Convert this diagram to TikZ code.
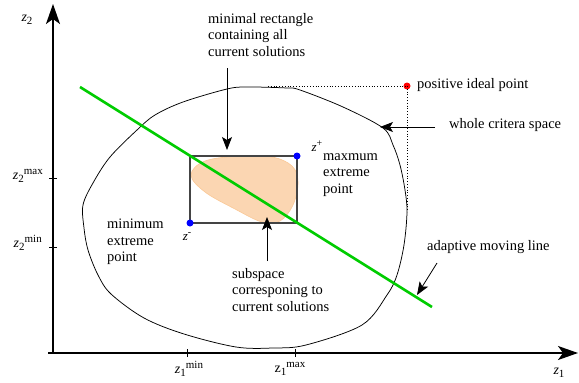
\documentclass[tikz,border=0pt]{standalone}
\usepackage{fontspec}
\setmainfont{Liberation Serif}
\usetikzlibrary{arrows.meta}
\definecolor{lgreen}{RGB}{0,204,0}
\definecolor{peach}{RGB}{251,214,178}
\definecolor{peachline}{RGB}{250,200,150}
\definecolor{rectgray}{RGB}{68,68,68}
\newcommand{\zlab}[3]{{\fontsize{14}{16}\selectfont #1}\raisebox{-3pt}{\fontsize{11}{12}\selectfont #2}\raisebox{5pt}{\fontsize{11}{12}\selectfont #3}}
\begin{document}
\begin{tikzpicture}[x=1pt,y=-1pt,
  lbl/.style={font=\fontsize{14.5}{16.5}\selectfont, align=left, inner sep=0pt, anchor=west},
  mlbl/.style={inner sep=0pt},
  bigarrow/.style={line width=0.8pt, -{Stealth[length=13pt,width=10pt,inset=3pt]}},
  axisline/.style={line width=1.3pt, -{Stealth[length=20pt,width=14pt,inset=5pt]}},
  dot/.style={circle, inner sep=0pt, minimum size=7pt},
  tick/.style={line width=1pt}]
\useasboundingbox (0,0) rectangle (579,383);
% axes
\coordinate (O) at (53,353);
\coordinate (ytip) at (53,4);
\coordinate (x0) at (48,353);
\coordinate (xtip) at (578,353);
\draw[axisline] (x0) -- (xtip);
\draw[axisline] (O) -- (ytip);
% ticks
\draw[tick] (49,178) -- (57,178);
\draw[tick] (49,247) -- (57,247);
\draw[tick] (187,349) -- (187,357);
\draw[tick] (295,349) -- (295,357);
% axis labels
\node[mlbl] (lz2) at (27,20) {\zlab{\itshape z}{2}{}};
\node[mlbl, anchor=east] (lz2max) at (43,176) {\zlab{\itshape z}{2}{max}};
\node[mlbl, anchor=east] (lz2min) at (42,243) {\zlab{\itshape z}{2}{min}};
\node[mlbl] (lz1min) at (189,369) {\zlab{\itshape z}{1}{min}};
\node[mlbl] (lz1max) at (290,369) {\zlab{z}{1}{max}};
\node[mlbl] (lz1) at (559,373) {\zlab{\itshape z}{1}{}};
% whole criteria space
\draw[line width=0.75pt] plot[smooth cycle, tension=0.55] coordinates {
 (83,205) (93,183) (110,157) (137,130) (155,115) (183,102) (227,89) (247,87)
 (287,88) (300,90) (343,107) (383,128) (393,145) (400,165) (405,190) (407,212)
 (404,245) (397,275) (387,295) (362,325) (306,345) (273,348) (236,347)
 (184,334) (144,318) (111,294) (98,275) (88,250) (84,228)};
% subspace blob
\filldraw[fill=peach, draw=peachline, line width=0.6pt] plot[smooth cycle, tension=0.6] coordinates {
 (191,175) (205,161) (240,156) (272,157) (292,166) (298,182) (293,205)
 (280,221) (262,222) (235,209) (205,192)};
% rectangle
\draw[rectgray, line width=1.3pt] (190,156) rectangle (297,223);
% green line
\coordinate (g1) at (80,87);
\coordinate (g2) at (432,307);
\draw[lgreen, line width=2.6pt] (g1) -- (g2);
% points
\node[dot, fill=blue] (zminus) at (190,223) {};
\node[dot, fill=blue] (zplus) at (297,156) {};
\node[dot, fill=red] (ideal) at (407,86) {};
\node[mlbl] (lzp) at (317,146) {{\fontsize{13}{14}\selectfont\itshape z}\raisebox{5pt}{\fontsize{10}{11}\selectfont +}};
\node[mlbl] (lzm) at (187,237) {{\fontsize{13}{14}\selectfont\itshape z}\raisebox{5pt}{\fontsize{10}{11}\selectfont -}};
% dotted lines
\coordinate (d1) at (268,86);
\coordinate (d2) at (407,212);
\draw[dotted, line width=0.8pt] (d1) -- (ideal.center);
\draw[dotted, line width=0.8pt] (ideal.center) -- (d2);
% labels
\node[lbl] (tmin) at (208,35) {minimal rectangle\\containing all\\current solutions};
\node[lbl] (tpos) at (417,85) {positive ideal point};
\node[lbl] (twhole) at (449,125) {whole critera space};
\node[lbl] (tmax) at (323,175) {maxmum\\extreme\\point};
\node[lbl] (tminp) at (107,242) {minimum\\extreme\\point};
\node[lbl] (tsub) at (232,290) {subspace\\corresponing to\\current solutions};
\node[lbl] (tada) at (427,247) {adaptive moving line};
% arrows
\coordinate (a1s) at (227,68);  \coordinate (a1e) at (227,150);
\coordinate (a2s) at (267,261); \coordinate (a2e) at (267,217);
\coordinate (a3s) at (435,127); \coordinate (a3e) at (380,127);
\coordinate (a4s) at (437,263); \coordinate (a4e) at (417,295);
\draw[bigarrow] (a1s) -- (a1e);
\draw[bigarrow] (a2s) -- (a2e);
\draw[bigarrow] (a3s) -- (a3e);
\draw[bigarrow] (a4s) -- (a4e);
\end{tikzpicture}
\end{document}
